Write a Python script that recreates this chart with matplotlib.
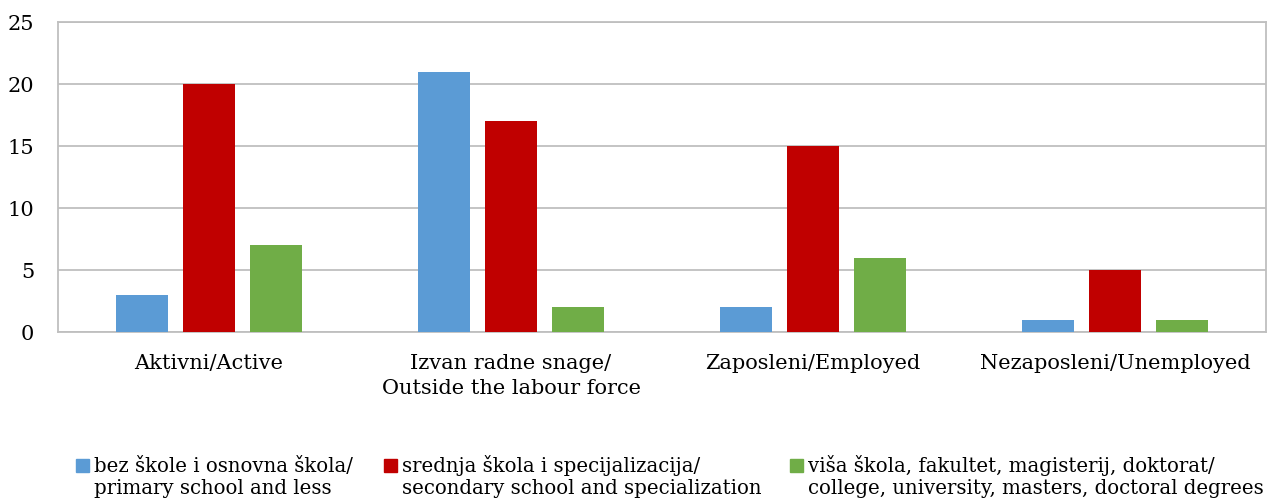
import matplotlib
matplotlib.use("Agg")
import matplotlib.pyplot as plt
import numpy as np
from matplotlib.patches import Rectangle

categories = ["Aktivni/Active", "Izvan radne snage/\nOutside the labour force",
              "Zaposleni/Employed", "Nezaposleni/Unemployed"]
series_names = ["bez škole i osnovna škola/\nprimary school and less",
                "srednja škola i specijalizacija/\nsecondary school and specialization",
                "viša škola, fakultet, magisterij, doktorat/\ncollege, university, masters, doctoral degrees"]
primary = [3, 21, 2, 1]
secondary = [20, 17, 15, 5]
higher = [7, 2, 6, 1]
colors = ["#5B9BD5", "#C00000", "#70AD47"]
yticks = [0, 5, 10, 15, 20, 25]

W, H = 1270, 504
plt.rcParams['font.family'] = ['DejaVu Serif']
fig = plt.figure(figsize=(W/100, H/100), dpi=100)
ax = fig.add_axes([58/W, 1-332/H, (1266-58)/W, (332-22)/H])

x = np.arange(len(categories))
w = 0.172
off = 0.222
for i, (vals, c) in enumerate(zip([primary, secondary, higher], colors)):
    ax.bar(x + (i-1)*off, vals, width=w, color=c, label=series_names[i], zorder=3)

ax.set_xlim(-0.5, 3.5)
ax.set_ylim(0, 25)
ax.set_yticks(yticks)
ax.set_yticklabels([str(v) for v in yticks], fontsize=15)
ax.set_xticks(x)
ax.set_xticklabels(categories, fontsize=15, linespacing=1.38)
ax.tick_params(axis='both', length=0, colors='#000000')
ax.tick_params(axis='y', pad=17)
ax.tick_params(axis='x', pad=16)
ax.yaxis.grid(True, color='#BFBFBF', linewidth=1.3, zorder=0)
for s in ax.spines.values():
    s.set_color('#BFBFBF')
    s.set_linewidth(1.3)

# legend (two-line entries, marker aligned with first line)
sq_x = [76, 384, 790]
for sx, name, c in zip(sq_x, series_names, colors):
    fig.patches.append(Rectangle((sx/W, 1-472/H), 13/W, 13/H, transform=fig.transFigure,
                                 color=c, figure=fig))
    lines = name.split("\n")
    for k, ln in enumerate(lines):
        fig.text((sx+18)/W, 1-(472+22*k)/H, ln, fontsize=14.2, ha='left', va='baseline')

fig.savefig("out.png", dpi=100)
